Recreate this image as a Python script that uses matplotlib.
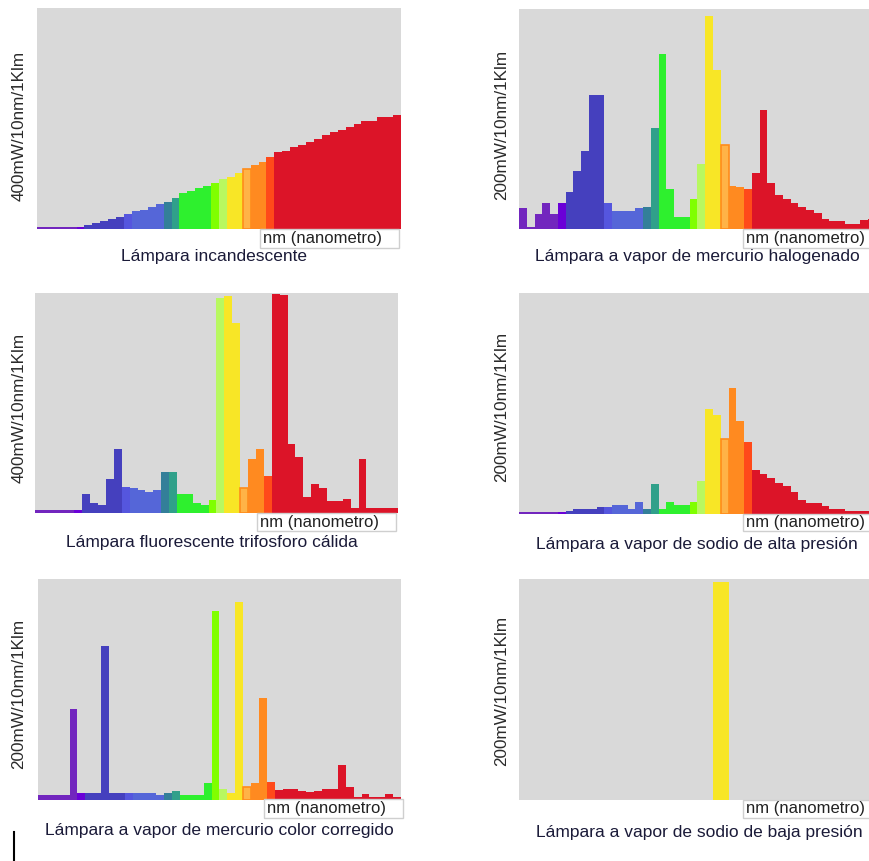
import numpy as np
import matplotlib
matplotlib.use("Agg")
import matplotlib.pyplot as plt
from matplotlib.patches import Rectangle
from matplotlib.lines import Line2D

plt.rcParams['font.family'] = ['Liberation Sans', 'DejaVu Sans']

W, H = 870, 861

# wavelength bins (nm), 46 bins
wavelengths = [380, 390, 400, 410, 420, 430, 440, 450, 460, 470, 480, 490, 500, 510, 520,
               530, 540, 550, 560, 570, 580, 590, 600, 610, 620, 630, 640, 650, 660, 670,
               680, 690, 700, 710, 720, 730, 740, 750, 760, 770, 780, 790, 800, 810, 820, 830]

bin_colors = (['#7226BE'] * 5 + ['#6A00D8'] + ['#4540BE'] * 5 + ['#5556DE'] + ['#5566D8'] * 4 +
              ['#337F99', '#30A08A'] + ['#2EF02E'] * 4 + ['#80FF00', '#B8F860'] +
              ['#F8E626'] * 2 + ['#FFB347', '#FF8A20', '#FF8A20', '#FF4A1A'] + ['#DC1428'] * 16)

incandescente = [4.5, 4.5, 4.5, 4.5, 4.5, 4.5, 7, 11, 15, 18, 22, 28, 32, 34, 40, 45, 48, 57,
                 65, 68, 74, 78, 84, 90, 95, 101, 108, 115, 122, 131,
                 139, 142, 148, 152, 158, 162, 170, 175, 179, 185, 190, 195, 195, 202, 202, 206]
mercurio_halogenado = [19, 2, 14, 24, 14, 24, 34, 53, 71, 122, 122, 24, 16, 16, 16, 19, 20, 92,
                       159, 36, 11, 11, 27, 59, 194, 145, 76, 39, 38, 36,
                       51, 108, 42, 31, 27, 24, 20, 17, 15, 9, 7, 7, 5, 5, 8, 9]
fluorescente = [5.5, 5.5, 5.5, 5.5, 5.5, 5.5, 35, 18, 15, 61, 116, 48, 45, 41, 38, 41, 75, 75,
                34, 34, 18, 15, 24, 391, 395, 345, 45, 98, 116, 68,
                399, 396, 125, 101, 29, 52, 45, 21, 21, 25, 8.5, 99, 8.5, 8.5, 8.5, 8.5]
sodio_alta = [2, 2, 2, 2, 2, 2, 3, 4.5, 4.5, 4.5, 6, 6.6, 8, 8, 4.5, 11, 4.5, 27,
              4.5, 11, 8, 8, 11, 30, 95, 90, 68, 114, 84, 65,
              40, 36, 33, 28, 25, 20, 13, 10, 10, 7.5, 4.5, 4.5, 3, 2.5, 2.5, 2.5]
mercurio_corregido = [4.5, 4.5, 4.5, 4.5, 82, 6, 6, 6, 139, 6, 6, 6, 6, 6, 6, 4.5, 6.6, 8,
                      4.5, 4.5, 4.5, 15, 171, 9.7, 6, 179.5, 11.5, 15, 92, 16.6,
                      9, 10, 10, 8.4, 7, 8.4, 10, 10, 32, 11.5, 3, 5, 3, 3, 5, 3]
sodio_baja = [0] * 25 + [197.5, 197.5] + [0] * 19

titles = ["Lámpara incandescente",
          "Lámpara a vapor de mercurio halogenado",
          "Lámpara fluorescente trifosforo cálida",
          "Lámpara a vapor de sodio de alta presión",
          "Lámpara a vapor de mercurio color corregido",
          "Lámpara a vapor de sodio de baja presión"]
ylabels = ["400mW/10nm/1Klm", "200mW/10nm/1Klm", "400mW/10nm/1Klm",
           "200mW/10nm/1Klm", "200mW/10nm/1Klm", "200mW/10nm/1Klm"]
ymaxes = [400, 200, 400, 200, 200, 200]
series = [incandescente, mercurio_halogenado, fluorescente, sodio_alta,
          mercurio_corregido, sodio_baja]

# layout in pixels: (left, top, right, bottom)
axes_px = [(37, 8, 401, 229), (519, 9, 876, 229),
           (35, 293, 398, 513), (519, 293, 876, 514),
           (38, 579, 401, 800), (519, 579, 876, 800)]
box_px = [(260, 229, 399, 248), (743, 229, 882, 248),
          (257, 513, 396, 531), (743, 514, 882, 531),
          (264, 799, 403, 818), (743, 800, 882, 818)]
title_px = [(214, 257), (697, 257), (212, 543), (697, 544), (219, 831), (699, 832)]
ylabel_px = [(19, 126), (502, 125), (19, 408), (502, 407), (19, 694), (502, 691)]

fig = plt.figure(figsize=(W / 100, H / 100), dpi=100)
fig.patch.set_facecolor('white')


def fx(x):
    return x / W


def fy(y):
    return 1 - y / H


for i in range(6):
    l, t, r, b = axes_px[i]
    ax = fig.add_axes([fx(l), fy(b), (r - l) / W, (b - t) / H])
    ax.set_facecolor('#D9D9D9')
    cols = list(bin_colors)
    if i == 5:
        cols[26] = '#F8E626'
    edges = ['#FF8C1A' if (k == 26 and i != 5) else c for k, c in enumerate(cols)]
    lws = [1.2 if (k == 26 and i != 5) else 0 for k in range(len(cols))]
    x = np.arange(len(wavelengths))
    ax.bar(x, series[i], width=1.0, align='edge', color=cols, edgecolor=edges,
           linewidth=lws)
    ax.set_xlim(0, len(wavelengths))
    ax.set_ylim(0, ymaxes[i])
    ax.set_xticks([])
    ax.set_yticks([])
    for s in ax.spines.values():
        s.set_visible(False)

    bl, bt, br, bb = box_px[i]
    fig.add_artist(Rectangle((fx(bl), fy(bb)), (br - bl) / W, (bb - bt) / H,
                             transform=fig.transFigure, facecolor='white',
                             edgecolor='#CFCFCF', linewidth=1, zorder=5))
    fig.text(fx(bl + 3), fy((bt + bb) / 2), "nm (nanometro)", fontsize=12,
             color='#222222', ha='left', va='center', zorder=6)

    tx, ty = title_px[i]
    fig.text(fx(tx), fy(ty), titles[i], fontsize=12.5, color='#1A1A38',
             ha='center', va='center')
    yx, yy = ylabel_px[i]
    fig.text(fx(yx), fy(yy), ylabels[i], fontsize=12.3, color='#2A2A2A',
             ha='center', va='center', rotation=90)

fig.add_artist(Line2D([fx(14), fx(14)], [fy(832), fy(860)], color='black',
                      linewidth=1.5, transform=fig.transFigure))

fig.savefig('out.png', dpi=100)
